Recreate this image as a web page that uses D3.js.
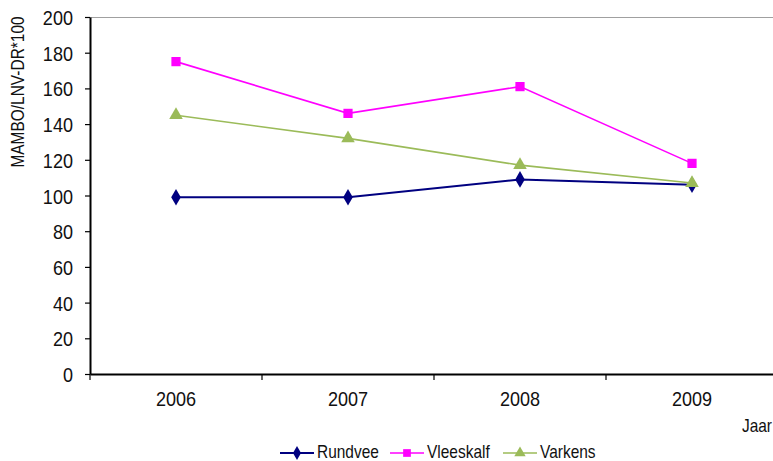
<!DOCTYPE html>
<html>
<head>
<meta charset="utf-8">
<script src="https://cdn.jsdelivr.net/npm/d3@7"></script>
<style>
  html, body { margin: 0; padding: 0; background: #fff; }
  svg text { font-family: "Liberation Sans", Arial, sans-serif; fill: #111; }
</style>
</head>
<body>
<svg id="chart" width="773" height="461"></svg>
<script>
// Index values per year
const years = ["2006", "2007", "2008", "2009"];
const rundvee = [99, 99, 109, 106];
const vleeskalf = [175, 146, 161, 118];
const varkens = [145, 132, 117, 107];
const yTicks = [0, 20, 40, 60, 80, 100, 120, 140, 160, 180, 200];

const series = [
  { name: "Rundvee", values: rundvee, color: "#000080", symbol: d3.symbolDiamond, size: 80 },
  { name: "Vleeskalf", values: vleeskalf, color: "#FF00FF", symbol: d3.symbolSquare, size: 85 },
  { name: "Varkens", values: varkens, color: "#9BBB59", symbol: d3.symbolTriangle, size: 80 }
];

const svg = d3.select("#chart");
const plotLeft = 90, plotRight = 778, plotTop = 17, plotBottom = 374;
const narrow = 0.86; // horizontal squeeze for a condensed look

const x = d3.scaleBand().domain(years).range([plotLeft, plotRight]);
const y = d3.scaleLinear().domain([0, 200]).range([plotBottom, plotTop]);

// plot area top border
svg.append("line")
  .attr("x1", plotLeft).attr("x2", 773).attr("y1", plotTop + 0.5).attr("y2", plotTop + 0.5)
  .attr("stroke", "#a0a0a0").attr("stroke-width", 1);

// y axis
const yAxis = svg.append("g").attr("transform", `translate(${plotLeft},0)`)
  .call(d3.axisLeft(y).tickValues(yTicks).tickSize(5).tickSizeOuter(0).tickPadding(12));
yAxis.select(".domain").attr("stroke", "#000").attr("stroke-width", 2);
yAxis.selectAll(".tick line").attr("stroke", "#000").attr("stroke-width", 1.2);
yAxis.selectAll(".tick text")
  .style("font-size", "21px")
  .attr("x", 0).attr("dy", "0.36em")
  .attr("transform", `translate(-17,0) scale(${narrow},1)`);

// x axis
const xAxis = svg.append("g").attr("transform", `translate(0,${plotBottom})`)
  .call(d3.axisBottom(x).tickSize(0).tickSizeOuter(0));
xAxis.select(".domain").attr("stroke", "#000").attr("stroke-width", 2);
xAxis.selectAll(".tick text")
  .style("font-size", "21px")
  .attr("y", 32).attr("dy", 0)
  .attr("transform", `scale(${narrow},1)`);

// category boundary ticks
const bounds = years.map(d => x(d)).concat([x(years[years.length - 1]) + x.bandwidth()]);
svg.append("g").selectAll("line").data(bounds).join("line")
  .attr("x1", d => d).attr("x2", d => d)
  .attr("y1", plotBottom).attr("y2", plotBottom + 6)
  .attr("stroke", "#000").attr("stroke-width", 1.2);

// axis titles
svg.append("text")
  .attr("transform", `translate(24,92) rotate(-90) scale(${narrow},1)`)
  .attr("text-anchor", "middle")
  .style("font-size", "18px")
  .text("MAMBO/LNV-DR*100");

svg.append("text")
  .attr("transform", `translate(772,432) scale(${narrow},1)`)
  .attr("text-anchor", "end")
  .style("font-size", "18px")
  .text("Jaar");

// lines and markers
const cx = d => x(d) + x.bandwidth() / 2;
const line = d3.line().x((v, i) => cx(years[i])).y(v => y(v));

series.forEach(s => {
  svg.append("path")
    .attr("d", line(s.values))
    .attr("fill", "none")
    .attr("stroke", s.color)
    .attr("stroke-width", s.name === "Rundvee" ? 2 : 1.6);
  svg.append("g").selectAll("path").data(s.values).join("path")
    .attr("transform", (v, i) => `translate(${cx(years[i])},${y(v)})`)
    .attr("d", d3.symbol().type(s.symbol).size(s.size))
    .attr("fill", s.color);
});

// legend
const legendX = [280, 390, 503];
const lg = svg.append("g").attr("transform", "translate(0,453)");
series.forEach((s, i) => {
  const lx = legendX[i];
  lg.append("line").attr("x1", lx).attr("x2", lx + 34).attr("y1", 0).attr("y2", 0)
    .attr("stroke", s.color).attr("stroke-width", s.name === "Rundvee" ? 2 : 1.6);
  lg.append("path").attr("transform", `translate(${lx + 17},0)`)
    .attr("d", d3.symbol().type(s.symbol).size(s.size * 0.7))
    .attr("fill", s.color);
  lg.append("text")
    .attr("transform", `translate(${lx + 37},5) scale(${narrow},1)`)
    .style("font-size", "18px").text(s.name);
});
</script>
</body>
</html>
